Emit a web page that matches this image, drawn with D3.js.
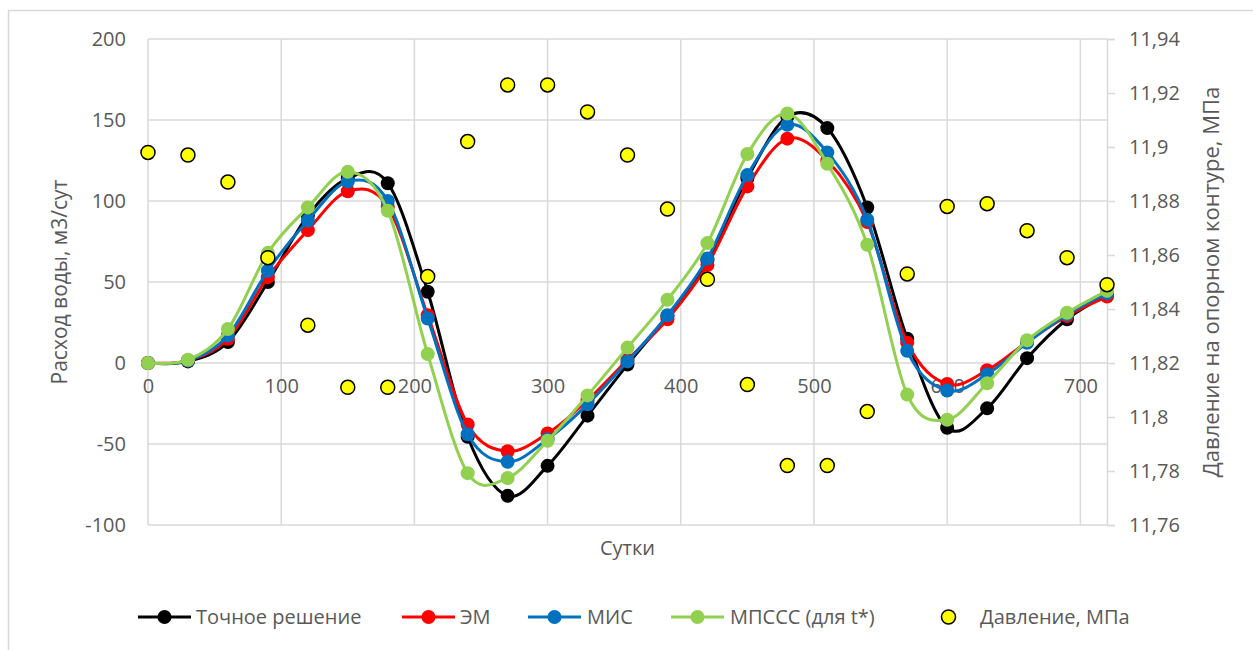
<!DOCTYPE html>
<html>
<head>
<meta charset="utf-8">
<script src="https://cdn.jsdelivr.net/npm/d3@7"></script>
<style>
  html, body { margin: 0; padding: 0; background: #fff; }
  svg text { font-family: "Open Sans", "Liberation Sans", sans-serif; fill: #595959; }
</style>
</head>
<body>
<svg id="chart" width="1253" height="650"></svg>
<script>
// Time in days
const days = [0, 30, 60, 90, 120, 150, 180, 210, 240, 270, 300, 330, 360, 390, 420, 450, 480, 510, 540, 570, 600, 630, 660, 690, 720];

// Water flow, m3/day
const exact = [0, 1, 13, 50, 91, 114, 111, 44, -45.5, -82, -63.5, -32.5, -1, 29, 63.5, 114, 152, 145, 96, 15, -40, -28, 3, 27, 42];
const em    = [0, 1.5, 15, 53, 82, 106, 96.5, 29.5, -38, -54.5, -43.5, -23, 2, 27, 60.5, 109, 138.5, 125, 87, 12.5, -13, -4.5, 13, 29, 41];
const mis   = [0, 1.5, 17, 57, 88, 112, 100, 27.5, -44, -61, -47, -25.5, 1, 29.5, 64.5, 116, 147, 130, 88.5, 7.5, -17, -7, 12.5, 30, 43];
const mpsss = [0, 2, 21, 68, 96, 118, 94, 5.5, -68, -71, -48, -20, 9.5, 39, 74, 129, 154, 123, 73, -19.5, -35, -12.5, 14, 31, 44.5];

// Pressure on the reference contour, MPa
const pressure = [11.898, 11.897, 11.887, 11.859, 11.834, 11.811, 11.811, 11.852, 11.902, 11.923, 11.923, 11.913, 11.897, 11.877, 11.851, 11.812, 11.782, 11.782, 11.802, 11.853, 11.878, 11.879, 11.869, 11.859, 11.849];

// Axis ticks
const xTicks = [0, 100, 200, 300, 400, 500, 600, 700];
const yLeftTicks = [-100, -50, 0, 50, 100, 150, 200];
const yRightTicks = [11.76, 11.78, 11.8, 11.82, 11.84, 11.86, 11.88, 11.9, 11.92, 11.94];

const seriesNames = ["Точное решение", "ЭМ", "МИС", "МПССС (для t*)", "Давление, МПа"];
const seriesColors = ["#000000", "#FF0000", "#0070C0", "#92D050"];

const svg = d3.select("#chart");
const W = 1253, H = 650;
const plot = { left: 148, right: 1107, top: 39, bottom: 525 };
const FONT = "'Open Sans', 'Liberation Sans', sans-serif";

const x = d3.scaleLinear().domain([0, 720]).range([plot.left, plot.right]);
const yL = d3.scaleLinear().domain([-100, 200]).range([plot.bottom, plot.top]);
const yR = d3.scaleLinear().domain([11.76, 11.94]).range([plot.bottom, plot.top]);

// Chart frame
svg.append("rect")
  .attr("x", 8.5).attr("y", 10.5)
  .attr("width", W + 20).attr("height", H + 20)
  .attr("fill", "#fff").attr("stroke", "#d9d9d9").attr("stroke-width", 1.5);

const grid = svg.append("g").attr("stroke", "#d9d9d9").attr("stroke-width", 1.5);

// Horizontal gridlines
grid.selectAll("line.h").data(yLeftTicks).join("line")
  .attr("x1", plot.left).attr("x2", plot.right)
  .attr("y1", d => yL(d)).attr("y2", d => yL(d));

// Vertical gridlines
grid.selectAll("line.v").data(xTicks).join("line")
  .attr("x1", d => x(d)).attr("x2", d => x(d))
  .attr("y1", plot.top).attr("y2", plot.bottom);

// Right axis line with outward ticks
const rightAxis = d3.axisRight(yR)
  .tickValues(yRightTicks)
  .tickSize(8)
  .tickPadding(14)
  .tickFormat(d => String(+d.toFixed(2)).replace(".", ","));
const gR = svg.append("g").attr("transform", `translate(${plot.right},0)`).call(rightAxis);
gR.select(".domain").attr("stroke", "#d9d9d9").attr("stroke-width", 1.5);
gR.selectAll(".tick line").attr("stroke", "#d9d9d9").attr("stroke-width", 1.5);
gR.selectAll(".tick text").attr("font-size", 20).attr("fill", "#595959").attr("font-family", FONT);

// Left axis labels only (plain hyphen for negatives)
const leftAxis = d3.axisLeft(yL).tickValues(yLeftTicks).tickSize(0).tickPadding(22)
  .tickFormat(d => String(d));
const gL = svg.append("g").attr("transform", `translate(${plot.left},0)`).call(leftAxis);
gL.select(".domain").remove();
gL.selectAll(".tick text").attr("font-size", 20).attr("fill", "#595959").attr("font-family", FONT);

// Category labels sit under the zero line
const bottomAxis = d3.axisBottom(x).tickValues(xTicks).tickSize(0).tickPadding(16)
  .tickFormat(d => String(d));
const gB = svg.append("g").attr("transform", `translate(0,${yL(0)})`).call(bottomAxis);
gB.select(".domain").remove();
gB.selectAll(".tick text").attr("font-size", 20).attr("fill", "#595959").attr("font-family", FONT);

// Axis titles
svg.append("text")
  .attr("x", (plot.left + plot.right) / 2).attr("y", 555)
  .attr("text-anchor", "middle").attr("font-size", 20)
  .text("Сутки");
svg.append("text")
  .attr("transform", `translate(67,${(plot.top + plot.bottom) / 2}) rotate(-90)`)
  .attr("text-anchor", "middle").attr("font-size", 21)
  .text("Расход воды, м3/сут");
svg.append("text")
  .attr("transform", `translate(1219,${(plot.top + plot.bottom) / 2}) rotate(-90)`)
  .attr("text-anchor", "middle").attr("font-size", 22)
  .text("Давление на опорном контуре, МПа");

// Smoothed flow series
const line = d3.line()
  .x(d => x(d[0]))
  .y(d => yL(d[1]))
  .curve(d3.curveCatmullRom.alpha(0));

[exact, em, mis, mpsss].forEach((vals, i) => {
  const pts = days.map((t, j) => [t, vals[j]]);
  const g = svg.append("g");
  g.append("path").datum(pts)
    .attr("d", line).attr("fill", "none")
    .attr("stroke", seriesColors[i]).attr("stroke-width", 3)
    .attr("stroke-linejoin", "round");
  g.selectAll("circle").data(pts).join("circle")
    .attr("cx", d => x(d[0])).attr("cy", d => yL(d[1]))
    .attr("r", 7).attr("fill", seriesColors[i]);
});

// Pressure points on the right axis
svg.append("g").selectAll("circle")
  .data(days.map((t, j) => [t, pressure[j]]))
  .join("circle")
  .attr("cx", d => x(d[0])).attr("cy", d => yR(d[1]))
  .attr("r", 7).attr("fill", "#FFFF00")
  .attr("stroke", "#000").attr("stroke-width", 1.5);

// Legend
const legendY = 617;
const legendItems = [
  { x: 138, textX: 196 },
  { x: 402, textX: 460 },
  { x: 528, textX: 587 },
  { x: 671, textX: 730 },
  { x: 922, textX: 980 }
];
legendItems.forEach((it, i) => {
  const g = svg.append("g");
  if (i < 4) {
    g.append("line")
      .attr("x1", it.x).attr("x2", it.x + 53)
      .attr("y1", legendY).attr("y2", legendY)
      .attr("stroke", seriesColors[i]).attr("stroke-width", 3);
    g.append("circle").attr("cx", it.x + 26.5).attr("cy", legendY)
      .attr("r", 7).attr("fill", seriesColors[i]);
  } else {
    g.append("circle").attr("cx", it.x + 26.5).attr("cy", legendY)
      .attr("r", 7).attr("fill", "#FFFF00")
      .attr("stroke", "#000").attr("stroke-width", 1.5);
  }
  g.append("text").attr("x", it.textX).attr("y", legendY + 7)
    .attr("font-size", 20).text(seriesNames[i]);
});
</script>
</body>
</html>
